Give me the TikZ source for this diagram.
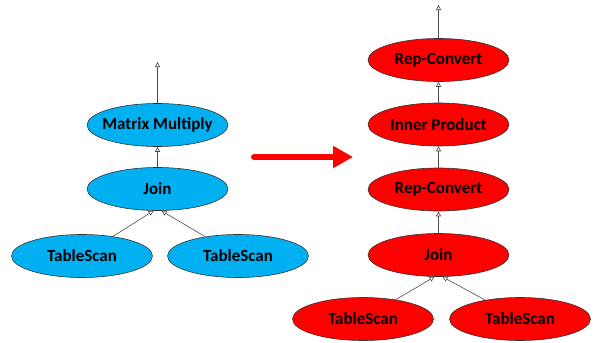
\documentclass[tikz,border=0pt]{standalone}
\usepackage{fontspec}
\setmainfont{Carlito}
\usetikzlibrary{shapes.geometric,arrows.meta}
\definecolor{opblue}{HTML}{00B0F0}
\definecolor{opred}{HTML}{FF0000}

\begin{document}
\begin{tikzpicture}[x=1pt,y=-1pt,
    op/.style={ellipse,draw=black!80,line width=0.6pt,minimum width=141pt,
      minimum height=43pt,inner ysep=0pt,inner xsep=-20pt,font=\fontsize{17}{20}\selectfont\bfseries},
    blueop/.style={op,fill=opblue},
    redop/.style={op,fill=opred},
    flow/.style={draw=black!70,line width=0.6pt,-{Triangle[open,length=5pt,width=5pt]}}]
    \useasboundingbox (0,0) rectangle (598,343);
    % draw the plan before
    \node[blueop] (mm) at (157.5,125) {Matrix Multiply};
    \node[blueop] (join) at (157.5,189) {Join};
    \node[blueop] (scana) at (82,256) {TableScan};
    \node[blueop] (scanb) at (238,256) {TableScan};
    \coordinate (outa) at (157.5,62);
    % draw the plan after
    \node[redop] (rca) at (438.5,60) {Rep-Convert};
    \node[redop] (inner) at (438.5,124.5) {Inner Product};
    \node[redop] (rcb) at (438.5,189.5) {Rep-Convert};
    \node[redop] (joinb) at (438.5,255) {Join};
    \node[redop] (scanc) at (363,319) {TableScan};
    \node[redop] (scand) at (520,319) {TableScan};
    \coordinate (outb) at (438.5,5);
    % draw the edges
    \draw[flow] (mm.north) -- (outa);
    \draw[flow] (join) -- (mm);
    \draw[flow] (scana) -- ([xshift=-4pt]join.south);
    \draw[flow] (scanb) -- ([xshift=4pt]join.south);
    \draw[flow] (rca.north) -- (outb);
    \draw[flow] (inner) -- (rca);
    \draw[flow] (rcb) -- (inner);
    \draw[flow] (joinb) -- (rcb);
    \draw[flow] (scanc) -- ([xshift=-4pt]joinb.south);
    \draw[flow] (scand) -- ([xshift=4pt]joinb.south);
    % the rewrite arrow
    \coordinate (from) at (254,157);
    \coordinate (to) at (353,157);
    \draw[opred,line width=6pt,line cap=round,-{Triangle[length=20pt,width=21pt]}] (from) -- (to);
\end{tikzpicture}
\end{document}
